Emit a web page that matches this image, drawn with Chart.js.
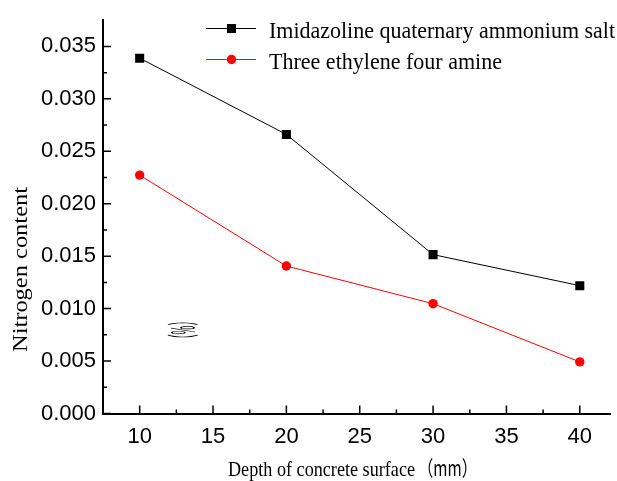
<!DOCTYPE html>
<html>
<head>
<meta charset="utf-8">
<script src="https://cdn.jsdelivr.net/npm/chart.js@4"></script>
<style>
  html, body { margin: 0; padding: 0; background: #fff; }
  #wrap { width: 617px; height: 481px; }
</style>
</head>
<body>
<div id="wrap"><canvas id="myChart" width="617" height="481"></canvas></div>
<script>
// depth below concrete surface (mm)
const depths = [10, 20, 30, 40];
// nitrogen content (%)
const imidazoline = [0.03388, 0.02661, 0.01515, 0.01219];
const triethylene = [0.02273, 0.01406, 0.01047, 0.00492];

const seriesNames = ['Imidazoline quaternary ammonium salt', 'Three ethylene four amine'];
const xTicks = [10, 15, 20, 25, 30, 35, 40];
const yTicks = [0, 0.005, 0.010, 0.015, 0.020, 0.025, 0.030, 0.035];
const xTitle = 'Depth of concrete surface';
const xUnit = '（mm）';
const yTitle = 'Nitrogen content';
const yUnit = '（%）';

const SERIF = '"Liberation Serif", "Times New Roman", serif';
const SANS = '"Liberation Sans", Arial, sans-serif';
const CJK = '"Noto Sans CJK SC", sans-serif';

// draw text, squeezed/stretched horizontally to a given width
function drawText(ctx, text, x, y, font, targetW, rot, align) {
  ctx.save();
  ctx.font = font;
  ctx.fillStyle = '#000';
  ctx.textAlign = align || 'center';
  ctx.textBaseline = 'alphabetic';
  ctx.translate(x, y);
  if (rot) ctx.rotate(rot);
  const w = ctx.measureText(text).width;
  if (targetW) ctx.scale(targetW / w, 1);
  ctx.fillText(text, 0, 0);
  ctx.restore();
}

const extras = {
  id: 'extras',
  afterDraw(chart) {
    const ctx = chart.ctx;
    const xs = chart.scales.x, ys = chart.scales.y;
    const left = chart.chartArea.left, bottom = chart.chartArea.bottom;

    // inward tick marks, major + minor
    ctx.save();
    ctx.strokeStyle = '#000';
    ctx.lineWidth = 1.5;
    ctx.beginPath();
    yTicks.forEach((v) => {
      const y = ys.getPixelForValue(v);
      ctx.moveTo(left, y); ctx.lineTo(left + 8, y);
      const mid = v + (yTicks[1] - yTicks[0]) / 2;
      if (mid < ys.max) {
        const ym = ys.getPixelForValue(mid);
        ctx.moveTo(left, ym); ctx.lineTo(left + 4, ym);
      }
    });
    xTicks.forEach((v) => {
      const x = xs.getPixelForValue(v);
      ctx.moveTo(x, bottom); ctx.lineTo(x, bottom - 8);
      const mid = v + (xTicks[1] - xTicks[0]) / 2;
      if (mid < xs.max) {
        const xm = xs.getPixelForValue(mid);
        ctx.moveTo(xm, bottom); ctx.lineTo(xm, bottom - 4);
      }
    });
    ctx.stroke();
    ctx.restore();

    // legend
    chart.data.datasets.forEach((ds, i) => {
      const cy = 28.5 + i * 31;
      ctx.save();
      ctx.strokeStyle = ds.borderColor;
      ctx.lineWidth = 1;
      ctx.beginPath();
      ctx.moveTo(206, cy); ctx.lineTo(256, cy);
      ctx.stroke();
      ctx.fillStyle = ds.backgroundColor;
      ctx.beginPath();
      if (ds.pointStyle === 'rect') ctx.rect(231.5 - 4.5, cy - 4.5, 9, 9);
      else ctx.arc(231.5, cy, 4.7, 0, Math.PI * 2);
      ctx.fill();
      ctx.restore();
      drawText(ctx, ds.label, 269, cy + 9.3, '24px ' + SERIF, i === 0 ? 346 : 233, 0, 'left');
    });

    // axis titles
    drawText(ctx, xTitle, 321.5, 476, '22px ' + SERIF, 187);
    drawText(ctx, xUnit, 447.5, 476, '21px ' + CJK, 59);
    drawText(ctx, yTitle, 27, 269.5, '22px ' + SERIF, 165, -Math.PI / 2);
    drawText(ctx, yUnit, 195, 330, '32px ' + CJK, 28, -Math.PI / 2);
  }
};

new Chart(document.getElementById('myChart').getContext('2d'), {
  type: 'line',
  data: {
    datasets: [
      {
        label: seriesNames[0],
        data: depths.map((x, i) => ({ x, y: imidazoline[i] })),
        borderColor: '#000', backgroundColor: '#000', borderWidth: 1,
        pointStyle: 'rect', pointRadius: 6.4, pointBorderWidth: 0
      },
      {
        label: seriesNames[1],
        data: depths.map((x, i) => ({ x, y: triethylene[i] })),
        borderColor: '#ff0000', backgroundColor: '#ff0000', borderWidth: 1,
        pointStyle: 'circle', pointRadius: 4.7, pointBorderWidth: 0
      }
    ]
  },
  options: {
    responsive: false,
    animation: false,
    layout: { padding: { top: 12.5, right: 0, left: 0, bottom: 0 } },
    plugins: { legend: { display: false }, tooltip: { enabled: false } },
    scales: {
      x: {
        type: 'linear', min: 7.5, max: 42.1,
        afterBuildTicks: (s) => { s.ticks = xTicks.map(v => ({ value: v })); },
        afterFit: (s) => { s.height = 67.5; },
        grid: { display: false, drawTicks: false },
        border: { display: true, color: '#000', width: 2 },
        ticks: { color: '#000', padding: 10, maxRotation: 0, font: { family: SANS, size: 22 } }
      },
      y: {
        type: 'linear', min: 0, max: 0.0375,
        afterBuildTicks: (s) => { s.ticks = yTicks.map(v => ({ value: v })); },
        afterFit: (s) => { s.width = 103; },
        grid: { display: false, drawTicks: false },
        border: { display: true, color: '#000', width: 2 },
        ticks: { color: '#000', padding: 7, font: { family: SANS, size: 22 },
                 callback: (v) => v.toFixed(3) }
      }
    }
  },
  plugins: [extras]
});
</script>
</body>
</html>
